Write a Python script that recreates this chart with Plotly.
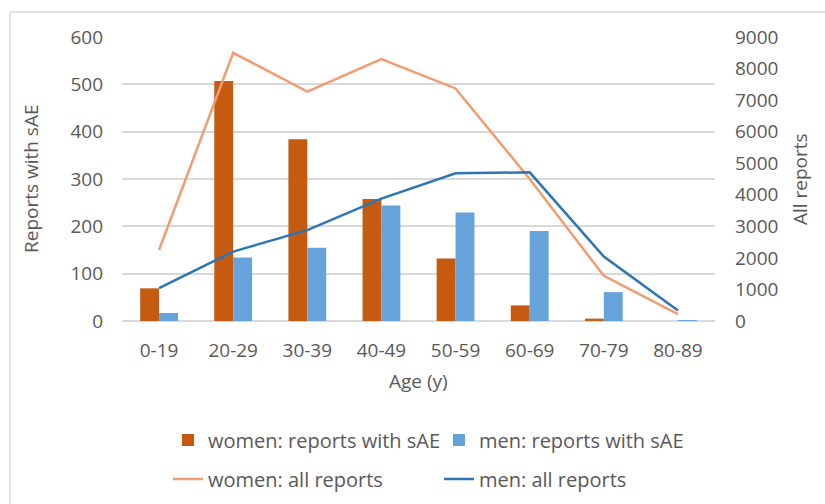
import plotly.graph_objects as go

ages = ["0-19", "20-29", "30-39", "40-49", "50-59", "60-69", "70-79", "80-89"]
women_sae = [69, 507, 384, 258, 132, 33, 5, 0]
men_sae = [17, 134, 155, 244, 229, 190, 61, 1]
women_all = [2250, 8500, 7270, 8300, 7370, 4500, 1430, 220]
men_all = [1040, 2200, 2880, 3880, 4680, 4710, 2040, 330]

left_ticks = [0, 100, 200, 300, 400, 500, 600]
right_ticks = [0, 1000, 2000, 3000, 4000, 5000, 6000, 7000, 8000, 9000]

FONT = "Open Sans"
GREY = "#595959"
FS = 19
LFS = 20

fig = go.Figure()
fig.add_trace(go.Bar(x=ages, y=women_sae, name="women: reports with sAE",
                     marker=dict(color="#C55A11", line=dict(width=0)), legend="legend"))
fig.add_trace(go.Bar(x=ages, y=men_sae, name="men: reports with sAE",
                     marker=dict(color="#65A3DA", line=dict(width=0)), legend="legend"))
fig.add_trace(go.Scatter(x=ages, y=women_all, name="women: all reports", mode="lines",
                         line=dict(color="#F19C72", width=2.5), yaxis="y2", legend="legend2"))
fig.add_trace(go.Scatter(x=ages, y=men_all, name="men: all reports", mode="lines",
                         line=dict(color="#2E75B6", width=2.5), yaxis="y2", legend="legend2"))

W, H = 825, 504
L, R, T, B = 122, 110, 37, 183
pw, ph = W - L - R, H - T - B

def px(x):
    return (x - L) / pw

def py(y):
    return (H - B - y) / ph

def cx(x):
    return x / W

def cy(y):
    return 1 - y / H

legend_common = dict(orientation="h", xref="container", yref="container",
                     xanchor="left", yanchor="middle",
                     entrywidth=226, entrywidthmode="pixels",
                     font=dict(size=LFS, color=GREY, family=FONT),
                     bgcolor="rgba(0,0,0,0)", traceorder="normal")

fig.update_layout(
    width=W, height=H,
    margin=dict(l=L, r=R, t=T, b=B, autoexpand=False),
    paper_bgcolor="white", plot_bgcolor="white",
    font=dict(family=FONT, size=FS, color=GREY),
    barmode="group", bargap=0.49, bargroupgap=0,
    xaxis=dict(showgrid=False, showline=False, zeroline=False, automargin=False,
               tickfont=dict(size=FS, color=GREY), ticks="outside", ticklen=12,
               tickcolor="rgba(0,0,0,0)"),
    yaxis=dict(range=[0, 600], tickvals=left_ticks, showgrid=True, automargin=False,
               gridcolor="#D9D9D9", gridwidth=1.5, zeroline=True,
               zerolinecolor="#D9D9D9", zerolinewidth=1.5, showline=False,
               tickfont=dict(size=FS, color=GREY), ticklabelstandoff=18),
    yaxis2=dict(range=[0, 9000], tickvals=right_ticks, overlaying="y", side="right",
                showgrid=False, zeroline=False, showline=False, automargin=False,
                tickfont=dict(size=FS, color=GREY), ticklabelstandoff=19),
    legend=dict(x=cx(168), y=cy(440), **legend_common),
    legend2=dict(x=cx(168), y=cy(479), **legend_common),
    showlegend=True,
    annotations=[
        dict(text="Reports with sAE", xref="paper", yref="paper", x=px(31), y=py(179),
             textangle=-90, showarrow=False, font=dict(size=FS, color=GREY),
             xanchor="center", yanchor="middle"),
        dict(text="All reports", xref="paper", yref="paper", x=px(800), y=py(179),
             textangle=-90, showarrow=False, font=dict(size=FS, color=GREY),
             xanchor="center", yanchor="middle"),
        dict(text="Age (y)", xref="paper", yref="paper", x=px(418), y=py(381),
             showarrow=False, font=dict(size=FS, color=GREY),
             xanchor="center", yanchor="middle"),
    ],
    shapes=[
        dict(type="line", xref="paper", yref="paper", x0=px(10), x1=px(840),
             y0=py(12), y1=py(12), line=dict(color="#D9D9D9", width=1.5)),
        dict(type="line", xref="paper", yref="paper", x0=px(10), x1=px(10),
             y0=py(12), y1=py(520), line=dict(color="#D9D9D9", width=1.5)),
    ],
)

fig.write_html("out.html", config={"displayModeBar": False},
               post_script="document.body.style.margin='0px';")
